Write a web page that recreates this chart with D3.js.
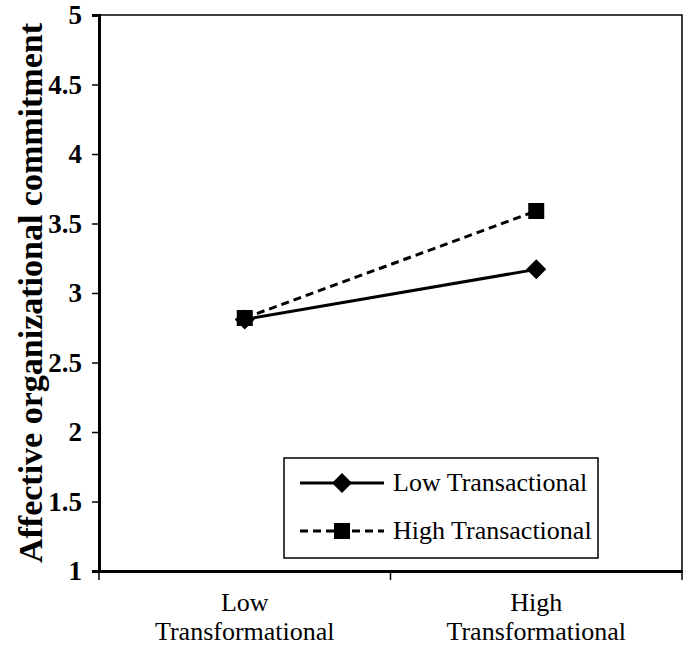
<!DOCTYPE html>
<html>
<head>
<meta charset="utf-8">
<script src="https://cdn.jsdelivr.net/npm/d3@7/dist/d3.min.js"></script>
<style>
  body { margin: 0; background: #fff; }
  svg { display: block; }
</style>
</head>
<body>
<div id="chart"></div>
<script>
const categories = ["Low\nTransformational", "High\nTransformational"];
const seriesNames = ["Low Transactional", "High Transactional"];
const lowTransactional = [2.81, 3.17];
const highTransactional = [2.82, 3.59];
const yTicks = [1, 1.5, 2, 2.5, 3, 3.5, 4, 4.5, 5];
const yTitle = "Affective organizational commitment";

const W = 685, H = 649;
const margin = { left: 99, top: 15, right: 3, bottom: 78 };
const svg = d3.select("#chart").append("svg").attr("width", W).attr("height", H);
const FONT = "'Liberation Serif', 'Times New Roman', serif";

const x = d3.scaleBand().domain(categories).range([margin.left, W - margin.right]);
const y = d3.scaleLinear().domain([1, 5]).range([H - margin.bottom, margin.top]);

// frame
svg.append("rect")
  .attr("x", margin.left).attr("y", margin.top)
  .attr("width", W - margin.right - margin.left)
  .attr("height", H - margin.bottom - margin.top)
  .attr("fill", "none").attr("stroke", "#000").attr("stroke-width", 1.5);

// y axis
const yAxis = svg.append("g").attr("transform", `translate(${margin.left},0)`)
  .call(d3.axisLeft(y).tickValues(yTicks).tickSize(7).tickPadding(10).tickFormat(d => String(d)));
yAxis.attr("font-family", FONT).attr("font-size", 27);
yAxis.select(".domain").attr("stroke-width", 3);
yAxis.selectAll(".tick line").attr("stroke-width", 1.5);
yAxis.selectAll("text").attr("font-weight", "bold").attr("fill", "#000");

// x axis
const xAxis = svg.append("g").attr("transform", `translate(0,${H - margin.bottom})`)
  .call(d3.axisBottom(x).tickSize(0).tickFormat(""));
xAxis.select(".domain").attr("stroke-width", 3);
const bounds = [margin.left, margin.left + x.step(), W - margin.right];
xAxis.selectAll(".bt").data(bounds).enter().append("line")
  .attr("x1", d => d).attr("x2", d => d).attr("y1", 0).attr("y2", 9)
  .attr("stroke", "#000").attr("stroke-width", 1.5);
const xl = xAxis.selectAll(".xl").data(categories).enter().append("text")
  .attr("text-anchor", "middle")
  .attr("font-family", FONT).attr("font-size", 26).attr("fill", "#000")
  .attr("transform", d => `translate(${x(d) + x.bandwidth() / 2},0)`);
xl.selectAll("tspan").data(d => d.split("\n")).enter().append("tspan")
  .attr("x", 0).attr("y", (d, i) => 40 + i * 29).text(d => d);

// y title
svg.append("text")
  .attr("transform", `translate(42,${(margin.top + H - margin.bottom) / 2}) rotate(-90)`)
  .attr("text-anchor", "middle")
  .attr("font-family", FONT).attr("font-weight", "bold").attr("font-size", 34)
  .text(yTitle);

const cx = d => x(d) + x.bandwidth() / 2;
const line = d3.line().x((d, i) => cx(categories[i])).y(d => y(d));

svg.append("path").datum(lowTransactional).attr("d", line)
  .attr("fill", "none").attr("stroke", "#000").attr("stroke-width", 3);
svg.append("path").datum(highTransactional).attr("d", line)
  .attr("fill", "none").attr("stroke", "#000").attr("stroke-width", 3).attr("stroke-dasharray", "8,5");

const diamondPath = "M0,-10L10,0L0,10L-10,0Z";
const squarePath = "M-8,-8H8V8H-8Z";

svg.selectAll(".m1").data(lowTransactional).enter().append("path")
  .attr("d", diamondPath).attr("fill", "#000")
  .attr("transform", (d, i) => `translate(${cx(categories[i])},${y(d)})`);
svg.selectAll(".m2").data(highTransactional).enter().append("path")
  .attr("d", squarePath).attr("fill", "#000")
  .attr("transform", (d, i) => `translate(${cx(categories[i])},${y(d)})`);

// legend
const lg = svg.append("g");
lg.append("rect").attr("x", 284).attr("y", 458).attr("width", 314).attr("height", 100)
  .attr("fill", "#fff").attr("stroke", "#000").attr("stroke-width", 1.5);
const rows = [
  { name: seriesNames[0], dash: null, shape: diamondPath, yy: 483 },
  { name: seriesNames[1], dash: "8,5", shape: squarePath, yy: 531 }
];
rows.forEach(r => {
  lg.append("line").attr("x1", 300).attr("x2", 384).attr("y1", r.yy).attr("y2", r.yy)
    .attr("stroke", "#000").attr("stroke-width", 3).attr("stroke-dasharray", r.dash);
  lg.append("path").attr("d", r.shape).attr("fill", "#000")
    .attr("transform", `translate(342,${r.yy})`);
  lg.append("text").attr("x", 393).attr("y", r.yy + 8)
    .attr("font-family", FONT).attr("font-size", 26).text(r.name);
});
</script>
</body>
</html>
